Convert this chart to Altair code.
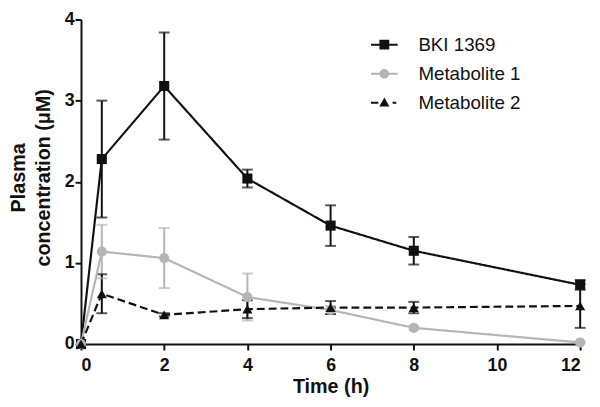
import altair as alt
import pandas as pd

times = [0, 0.5, 2, 4, 6, 8, 12]
series_names = ["BKI 1369", "Metabolite 1", "Metabolite 2"]
bki = [0, 2.28, 3.18, 2.04, 1.46, 1.15, 0.73]
bki_sd = [0, 0.72, 0.66, 0.11, 0.25, 0.17, 0.06]
met1 = [0, 1.14, 1.06, 0.58, 0.42, 0.20, 0.02]
met1_sd = [0, 0.33, 0.37, 0.29, 0.05, 0.02, 0.01]
met2 = [0, 0.62, 0.36, 0.43, 0.45, 0.45, 0.47]
met2_sd = [0, 0.24, 0.02, 0.11, 0.08, 0.07, 0.27]

colors = ["#111111", "#b5b5b5", "#111111"]
dashes = [[8, 4], [1, 0], [8, 4]]
dashes = [[1, 0], [1, 0], [8, 4]]
shapes = ["square", "circle", "triangle-up"]
legend_shapes = [
    "M-1,-0.075H1V0.075H-1Z M-0.37,-0.37H0.37V0.37H-0.37Z",
    "M-1,-0.075H1V0.075H-1Z M-0.36,0 A0.36,0.36 0 1,1 0.36,0 A0.36,0.36 0 1,1 -0.36,0 Z",
    "M-1,-0.075H-0.45V0.075H-1Z M0.62,-0.075H0.9V0.075H0.62Z M0,-0.4L0.38,0.28H-0.38Z",
]

rows = []
for name, vals, sds in zip(series_names, [bki, met1, met2], [bki_sd, met1_sd, met2_sd]):
    for t, v, s in zip(times, vals, sds):
        rows.append({"time": t, "series": name, "value": v, "lo": v - s, "hi": v + s, "sd": s})
df = pd.DataFrame(rows)

cap_rows = []
for r in rows:
    if r["sd"] > 0:
        cap_rows.append({"time": r["time"], "series": r["series"], "cap": r["hi"]})
        cap_rows.append({"time": r["time"], "series": r["series"], "cap": r["lo"]})
caps = pd.DataFrame(cap_rows)

xs = alt.Scale(domain=[0, 12], nice=False)
ys = alt.Scale(domain=[0, 4], nice=False)
cscale = alt.Scale(domain=series_names, range=colors)

x_enc = alt.X("time:Q", scale=xs, axis=alt.Axis(
    values=[0, 2, 4, 6, 8, 10, 12], format="d", title="Time (h)",
    titlePadding=2, labelPadding=7))
y_enc = alt.Y("value:Q", scale=ys, axis=alt.Axis(
    values=[0, 1, 2, 3, 4], format="d", title=["Plasma", "concentration (μM)"],
    titleX=-73, titleY=160, titleBaseline="top", titleLineHeight=25,
    labelPadding=1))
color_enc = alt.Color("series:N", scale=cscale, legend=None)

base = alt.Chart(df)

err = base.mark_rule(strokeWidth=2).encode(
    x=alt.X("time:Q", scale=xs),
    y=alt.Y("lo:Q", scale=ys),
    y2="hi:Q",
    color=color_enc,
).transform_filter("datum.sd > 0")

cap = alt.Chart(caps).mark_tick(orient="horizontal", thickness=2, size=11).encode(
    x=alt.X("time:Q", scale=xs),
    y=alt.Y("cap:Q", scale=ys),
    color=color_enc,
)

lines = base.mark_line(strokeWidth=2.2).encode(
    x=x_enc,
    y=y_enc,
    color=color_enc,
    strokeDash=alt.StrokeDash("series:N", scale=alt.Scale(domain=series_names, range=dashes), legend=None),
)

pts = base.mark_point(filled=True, opacity=1, size=105).encode(
    x=alt.X("time:Q", scale=xs),
    y=alt.Y("value:Q", scale=ys),
    color=color_enc,
    shape=alt.Shape("series:N", scale=alt.Scale(domain=series_names, range=shapes), legend=None),
)

leg_opts = dict(orient="none", legendX=294, legendY=12, padding=0, symbolSize=729,
                labelFontSize=19, labelFont="Liberation Sans", labelColor="#111111",
                labelOffset=21, rowPadding=5.5, title=None, symbolStrokeWidth=0)

leg = base.mark_point(filled=True, opacity=1).encode(
    x=alt.X("time:Q", scale=xs),
    y=alt.Y("value:Q", scale=ys),
    color=alt.Color("series:N", scale=cscale, title=None, legend=alt.Legend(**leg_opts)),
    shape=alt.Shape("series:N", title=None,
                    scale=alt.Scale(domain=series_names, range=legend_shapes),
                    legend=alt.Legend(**leg_opts)),
).transform_filter("false")

chart = alt.layer(err, cap, lines, pts, leg).resolve_scale(
    color="independent", shape="independent"
).properties(
    width=506, height=329,
    padding={"left": 74, "top": 9, "right": 12, "bottom": 52},
    autosize=alt.AutoSizeParams(type="none"),
).configure_view(stroke=None).configure_axis(
    grid=False, domainColor="#111111", domainWidth=2, tickColor="#111111",
    tickWidth=2, tickSize=6, labelFont="Liberation Sans", labelFontWeight="bold",
    labelFontSize=18, labelColor="#111111", titleFont="Liberation Sans",
    titleFontWeight="bold", titleFontSize=20, titleColor="#111111",
)

chart.save("out.html", embed_options={"renderer": "svg", "actions": False})
